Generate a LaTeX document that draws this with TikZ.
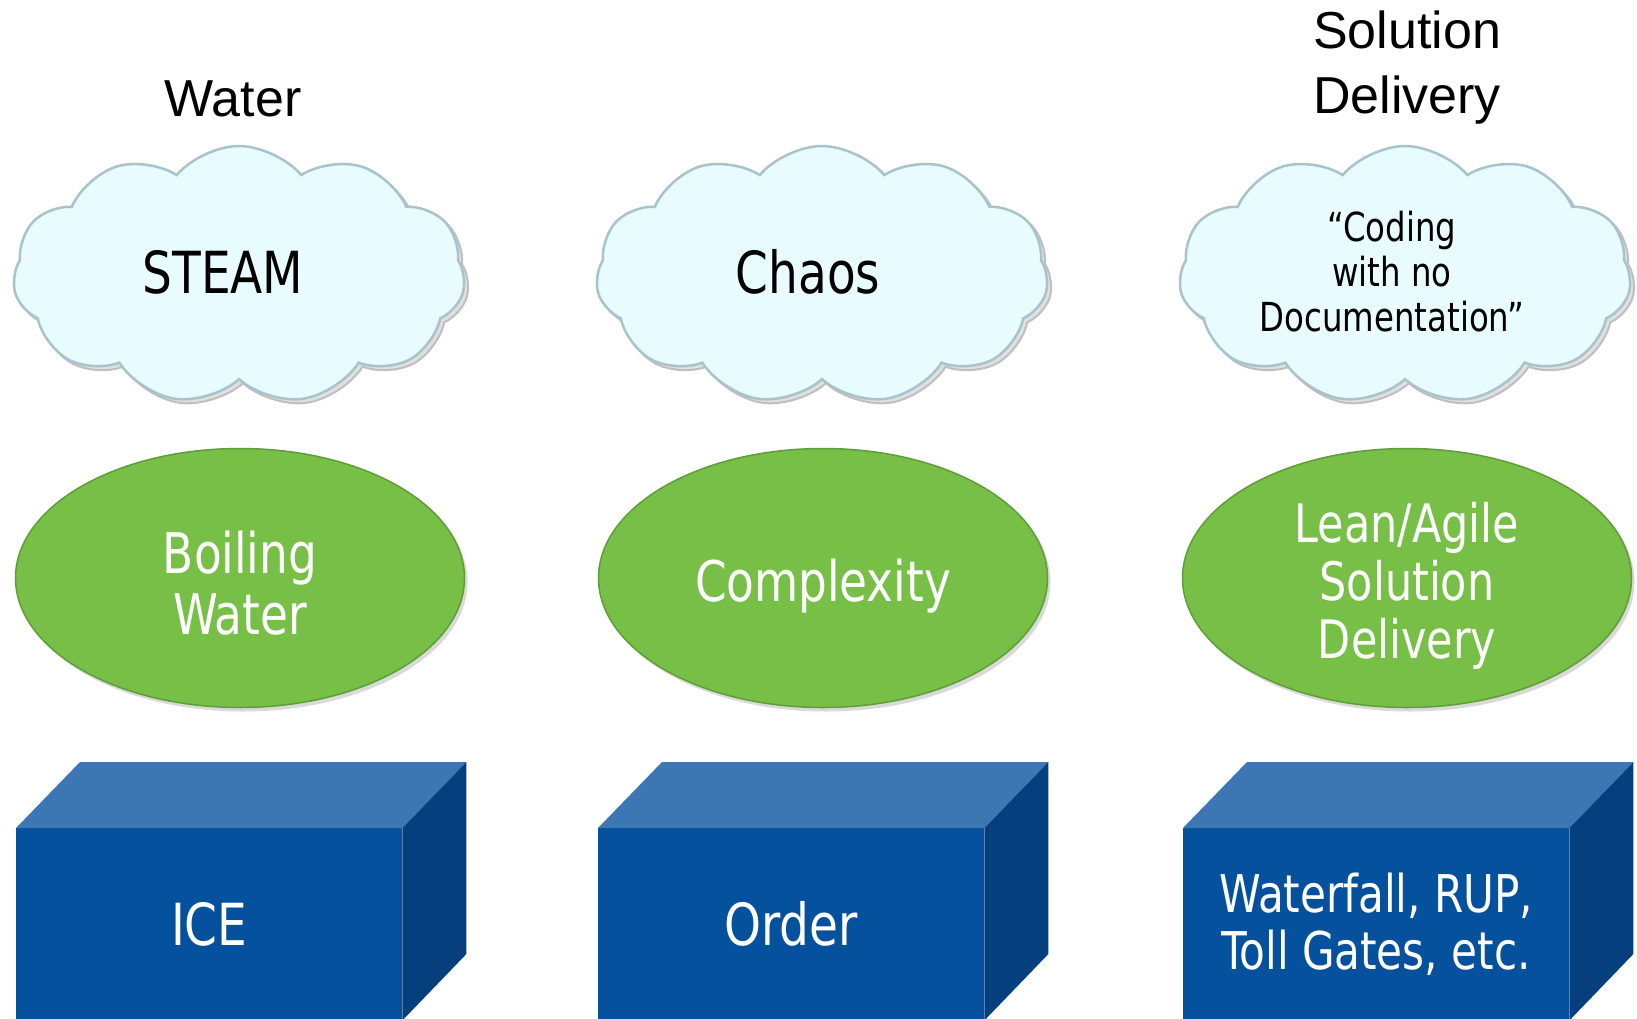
\documentclass[tikz,border=0pt]{standalone}
\usepackage{fontspec}
\setmainfont{Liberation Sans}
\newfontfamily\shapefont[FakeStretch=0.9]{DejaVu Sans Condensed}
\usetikzlibrary{shapes.symbols,shapes.geometric,calc}

\definecolor{cloudfill}{HTML}{E8FBFE}
\definecolor{cloudedge}{HTML}{A9C3CC}
\definecolor{leaf}{HTML}{77BF47}
\definecolor{leafedge}{HTML}{5F9E37}
\definecolor{blockfront}{HTML}{06519D}
\definecolor{blocktop}{HTML}{3C77B3}
\definecolor{blockside}{HTML}{053F7E}

\tikzset{
  title/.style={font=\fontsize{52}{65}\selectfont, align=center, text=black},
  cloudshape/.style={cloud, cloud puffs=11, cloud puff arc=100, aspect=1.75,
    minimum width=452pt, minimum height=258pt, inner sep=0pt,
    fill=cloudfill, draw=cloudedge, line width=2.5pt},
  cloudshadow/.style={cloudshape, draw=black!25, fill=black!12, line width=2pt},
  cloudtext/.style={font=\shapefont\fontsize{58}{64}\selectfont, align=center, text=black},
  egg/.style={ellipse, minimum width=449pt, minimum height=259pt, inner sep=0pt,
    fill=leaf, draw=leafedge, line width=1.5pt},
  eggshadow/.style={ellipse, minimum width=449pt, minimum height=259pt, fill=black!15, draw=none},
  eggtext/.style={text=white, align=center, font=\shapefont\fontsize{56}{61}\selectfont},
  blockfront/.style={rectangle, anchor=north west, minimum width=386pt, minimum height=192pt,
    inner sep=0pt, fill=blockfront, text=white, align=center,
    font=\shapefont\fontsize{58}{58}\selectfont},
}

\newcommand{\blockfaces}[1]{%
  \fill[blocktop] (#1.north west) -- ++(64,-66) -- ($(#1.north east)+(64,-66)$) -- (#1.north east) -- cycle;
  \fill[blockside] (#1.north east) -- ++(64,-66) -- ++(0,192) -- (#1.south east) -- cycle;
}

\begin{document}
\begin{tikzpicture}[x=1pt,y=-1pt]
\useasboundingbox (0,0) rectangle (1637,1018);
\clip (0,0) rectangle (1637,1018);
\fill[white] (0,0) rectangle (1637,1018);

% column headings
\node[title] (t1) at (233,99) {Water};
\node[title] (t3) at (1407,68) {Solution\\Delivery};

% gaseous state: clouds
\foreach \cx/\nm in {239/c1, 822/c2, 1405/c3}{
  \node[cloudshadow] at (\cx+4,279) {};
  \node[cloudshape] (\nm) at (\cx,275) {};
}
\node[cloudtext] (s1) at (223,272) {STEAM};
\node[cloudtext] (s2) at (808,272) {Chaos};
\node[cloudtext, font=\shapefont\fontsize{40}{45}\selectfont] (s3) at (1392,272)
  {“Coding\\with no\\Documentation”};

% liquid state: ellipses
\foreach \cx in {240, 823, 1407}{
  \node[eggshadow] at (\cx+3,582) {};
}
\node[egg] (e1) at (240,578) {};
\node[egg] (e2) at (823,578) {};
\node[egg] (e3) at (1407,578) {};
\node[eggtext] (l1) at (240,583) {Boiling\\Water};
\node[eggtext] (l2) at (823,586) {Complexity};
\node[eggtext, font=\shapefont\fontsize{53}{58}\selectfont] (l3) at (1407,586) {Lean/Agile\\Solution\\Delivery};

% solid state: blocks
\node[blockfront] (b1) at (16,828) {ICE};
\node[blockfront] (b2) at (598,828) {Order};
\node[blockfront, font=\shapefont\fontsize{52}{57}\selectfont] (b3) at (1183,828) {Waterfall, RUP,\\Toll Gates, etc.};
\blockfaces{b1}
\blockfaces{b2}
\blockfaces{b3}
\end{tikzpicture}
\end{document}
